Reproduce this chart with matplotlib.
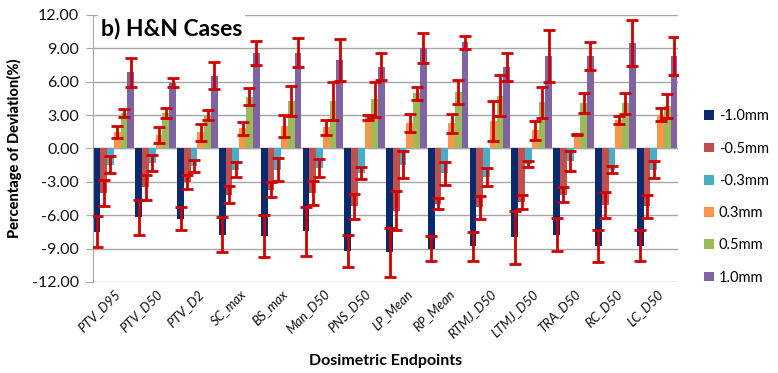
import numpy as np
import matplotlib
matplotlib.use("Agg")
import matplotlib.pyplot as plt

plt.rcParams['font.family'] = ['Lato', 'DejaVu Sans']

endpoints = ['PTV_D95', 'PTV_D50', 'PTV_D2', 'SC_max', 'BS_max', 'Man_D50', 'PNS_D50',
             'LP_Mean', 'RP_Mean', 'RTMJ_D50', 'LTMJ_D50', 'TRA_D50', 'RC_D50', 'LC_D50']
shifts = ['-1.0mm', '-0.5mm', '-0.3mm', '0.3mm', '0.5mm', '1.0mm']

m10 = [-7.5, -6.2, -6.3, -7.75, -7.85, -7.45, -9.2, -9.35, -9.0, -8.8, -8.0, -7.75, -8.75, -8.75]
m05 = [-4.0, -3.5, -3.0, -4.15, -3.7, -4.0, -5.2, -5.6, -4.95, -5.3, -4.8, -4.15, -5.1, -5.2]
m03 = [-1.45, -1.3, -1.6, -1.9, -1.9, -1.75, -2.2, -1.45, -2.25, -2.6, -1.4, -1.1, -1.9, -1.9]
p03 = [1.5, 1.2, 1.45, 1.8, 2.0, 1.9, 2.8, 2.3, 2.25, 2.45, 1.65, 1.25, 2.55, 3.05]
p05 = [3.2, 3.2, 3.05, 4.65, 4.25, 4.25, 4.4, 4.95, 5.05, 4.75, 4.15, 4.05, 4.05, 3.8]
p10 = [6.85, 5.9, 6.55, 8.6, 8.6, 7.95, 7.35, 9.0, 9.55, 7.35, 8.3, 8.3, 9.5, 8.3]

e_m10 = [1.4, 1.55, 1.0, 1.6, 1.9, 2.2, 1.45, 2.2, 1.1, 1.3, 2.35, 1.5, 1.45, 1.4]
e_m05 = [1.2, 1.1, 0.6, 0.75, 0.65, 1.1, 1.1, 1.75, 0.5, 1.05, 0.65, 0.7, 1.15, 1.05]
e_m03 = [0.8, 0.75, 0.55, 0.7, 1.0, 0.8, 0.55, 1.2, 1.05, 0.8, 0.25, 0.9, 0.35, 0.8]
e_p03 = [0.55, 0.75, 0.75, 0.55, 1.0, 0.65, 0.2, 0.8, 0.85, 1.8, 0.85, 0.05, 0.33, 0.6]
e_p05 = [0.35, 0.45, 0.45, 0.75, 1.35, 1.7, 1.6, 0.6, 1.1, 1.85, 1.4, 0.9, 0.95, 1.1]
e_p10 = [1.3, 0.4, 1.2, 1.1, 1.3, 1.85, 1.2, 1.35, 0.6, 1.25, 2.35, 1.25, 2.05, 1.7]

values = [m10, m05, m03, p03, p05, p10]
errors = [e_m10, e_m05, e_m03, e_p03, e_p05, e_p10]
colors = ['#0b2a6e', '#c0504d', '#4bacc6', '#f79646', '#9bbb59', '#8064a2']

fig = plt.figure(figsize=(7.78, 3.73), dpi=100)
ax = fig.add_axes([0.1195, 0.244, 0.752, 0.716])

x = np.arange(len(endpoints))
w = 0.97 / 6
for j in range(6):
    ax.bar(x + (j - 2.5) * w, values[j], w, color=colors[j], label=shifts[j], zorder=2)
for j in range(6):
    ax.errorbar(x + (j - 2.5) * w, values[j], yerr=errors[j], fmt='none',
                ecolor='#d00000', elinewidth=2, capsize=4, capthick=2, zorder=3)

ax.set_xlim(-0.5, len(endpoints) - 0.5)
ax.set_ylim(-12, 12)
ax.set_yticks(np.arange(-12, 13, 3))
ax.set_yticklabels(['%.2f' % v for v in np.arange(-12, 13, 3)], fontsize=11.5, color='#111111')
ax.yaxis.grid(True, color='#a6a6a6', linewidth=1, zorder=0)
ax.set_axisbelow(True)
ax.axhline(0, color='#a6a6a6', linewidth=1, zorder=1)
for s in ['top', 'right', 'bottom']:
    ax.spines[s].set_visible(False)
ax.spines['left'].set_color('#a6a6a6')
ax.tick_params(axis='y', length=5, color='#a6a6a6', pad=5)
ax.tick_params(axis='x', length=0, pad=4)
ax.set_xticks(x)
ax.set_xticklabels(endpoints, rotation=45, ha='right', rotation_mode='anchor',
                   fontsize=9.5, style='italic', color='#111111')

ax.set_ylabel('Percentage of Deviation(%)', fontsize=10.5, fontweight='black', labelpad=7)
ax.set_xlabel('Dosimetric Endpoints', fontsize=11.5, fontweight='bold', labelpad=10)

ax.text(0.014, 0.99, 'b) H&N Cases', transform=ax.transAxes, fontsize=16.5,
        fontweight='bold', va='top', ha='left', zorder=5,
        bbox=dict(facecolor='white', edgecolor='none', pad=2))

fig.legend(loc='center left', bbox_to_anchor=(0.905, 0.472), frameon=False,
           fontsize=10.5, handlelength=0.65, handleheight=0.65, handletextpad=0.35,
           labelspacing=1.25, borderpad=0, borderaxespad=0)

fig.savefig('out.png', dpi=100)
